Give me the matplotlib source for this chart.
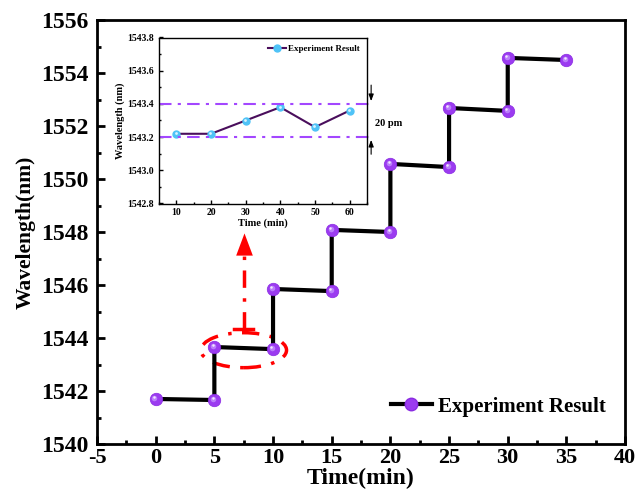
import matplotlib.pyplot as plt
import matplotlib
import numpy as np
from matplotlib.patches import Ellipse
from matplotlib.transforms import offset_copy
from matplotlib.ticker import MultipleLocator, FormatStrFormatter

matplotlib.rc("font", family='Liberation Serif', weight='bold')
matplotlib.rc("axes", labelweight='bold', unicode_minus=False)

# main data: each step of 5 min measured twice
time = [0, 5, 5, 10, 10, 15, 15, 20, 20, 25, 25, 30, 30, 35]
wavelength = [1541.70, 1541.66, 1543.66, 1543.58, 1545.85, 1545.77, 1548.08,
              1548.00, 1550.57, 1550.45, 1552.68, 1552.57, 1554.57, 1554.49]

# inset data (stability around 1543.3 nm)
time_in = [10, 20, 30, 40, 50, 60]
wl_in = [1543.22, 1543.22, 1543.30, 1543.38, 1543.26, 1543.36]
band = [1543.4, 1543.2]

purple = '#9B3BF0'

fig = plt.figure(figsize=(6.37, 5.0), dpi=100)
ax = fig.add_axes([0.1523, 0.112, 0.829, 0.848])

ax.plot(time, wavelength, color='black', lw=3, zorder=2)
ax.plot(time, wavelength, ls='none', marker='o', ms=9, color=purple,
        mec='#8A2BE2', mew=0.5, zorder=3)
hl = offset_copy(ax.transData, fig=fig, x=-1.2, y=1.2, units='dots')
ax.plot(time, wavelength, ls='none', marker='o', ms=4, color='#C89BFF',
        mew=0, alpha=0.7, transform=hl, zorder=4)
hl_b = offset_copy(ax.transData, fig=fig, x=-1.8, y=1.8, units='dots')
ax.plot(time, wavelength, ls='none', marker='o', ms=1.8, color='#F2E6FF',
        mew=0, transform=hl_b, zorder=5)
# legend proxy
ax.plot([], [], color='black', lw=3, marker='o', ms=9, mfc=purple,
        mec='#8A2BE2', label='Experiment Result')

ax.set_xlim(-5, 40)
ax.set_ylim(1540, 1556)
ax.xaxis.set_major_locator(MultipleLocator(5))
ax.xaxis.set_minor_locator(MultipleLocator(2.5))
ax.yaxis.set_major_locator(MultipleLocator(2))
ax.yaxis.set_minor_locator(MultipleLocator(1))
ax.tick_params(which='both', direction='in', width=2)
ax.tick_params(which='major', length=6)
ax.tick_params(which='minor', length=3)
ax.tick_params(axis='x', pad=3, labelsize=16)
ax.tick_params(axis='y', pad=6, labelsize=17)
for s in ax.spines.values():
    s.set_linewidth(2)
ax.set_xlabel('Time(min)', fontsize=17, labelpad=0)
ax.set_ylabel('Wavelength(nm)', fontsize=15.5, labelpad=4)
leg = ax.legend(loc='lower right', frameon=False, fontsize=15,
                handlelength=2.0, handletextpad=0.3, bbox_to_anchor=(1.0, 0.02))

# red dash-dot ellipse around the 1543.6 nm step and arrow to inset
cx = (time[2] + time[3]) / 2
cy = (wavelength[2] + wavelength[3]) / 2 - 0.08
ax.add_patch(Ellipse((cx, cy), 7.3, 1.32, fill=False, ec='red', lw=2.5,
                     ls=(0, (5, 3, 1, 3)), zorder=1))
ax.plot([cx, cx], [1544.33, 1547.3], color='red', lw=2.5,
        ls=(0, (5, 3, 1, 3)))
ax.plot([cx - 0.8, cx + 0.8], [1544.33, 1544.33], color='red', lw=2.5)
ax.plot([cx], [1547.55], marker=[(-0.75, -1), (0.75, -1), (0, 1)], ms=16,
        color='red', mew=0)

# inset
ins = fig.add_axes([0.2496, 0.593, 0.3265, 0.332])
ins.plot(time_in, wl_in, color='#4A0E5C', lw=1.5, marker='o', ms=5,
         mfc='#4FC3F7', mec='#4FC3F7', label='Experiment Result')
hl2 = offset_copy(ins.transData, fig=fig, x=-0.7, y=0.7, units='dots')
ins.plot(time_in, wl_in, ls='none', marker='o', ms=2, color='#D8F2FF',
         mew=0, transform=hl2)
for b in band:
    ins.axhline(b, xmin=0, xmax=1.01, color='#A347FF', lw=1.5,
                ls=(0, (6, 3, 1.5, 3)), clip_on=False)
ins.set_xlim(5, 65)
ins.set_ylim(1542.8, 1543.8)
ins.xaxis.set_major_locator(MultipleLocator(10))
ins.xaxis.set_minor_locator(MultipleLocator(5))
ins.yaxis.set_major_locator(MultipleLocator(0.2))
ins.yaxis.set_minor_locator(MultipleLocator(0.1))
ins.yaxis.set_major_formatter(FormatStrFormatter('%.1f'))
ins.tick_params(which='both', direction='in', width=1, labelsize=7)
ins.tick_params(which='major', length=3)
ins.tick_params(which='minor', length=1.5)
for s in ins.spines.values():
    s.set_linewidth(1)
ins.set_xlabel('Time (min)', fontsize=7.5, labelpad=1)
ins.set_ylabel('Wavelength (nm)', fontsize=7.5, labelpad=2)
ins.legend(loc='upper right', frameon=False, fontsize=6.5, handlelength=2,
           handletextpad=0.2, borderaxespad=0.4)

# 20 pm spacing arrows
ins.annotate('', xy=(1.02, 0.6), xytext=(1.02, 0.73), xycoords='axes fraction',
             arrowprops=dict(arrowstyle='-|>,head_width=0.15,head_length=0.4',
                             color='black', lw=0.8))
ins.annotate('', xy=(1.02, 0.4), xytext=(1.02, 0.28), xycoords='axes fraction',
             arrowprops=dict(arrowstyle='-|>,head_width=0.15,head_length=0.4',
                             color='black', lw=0.8))
ins.text(1.04, 0.48, '20 pm', transform=ins.transAxes, fontsize=7.5,
         va='center', ha='left')

plt.savefig('out.png', dpi=100)
